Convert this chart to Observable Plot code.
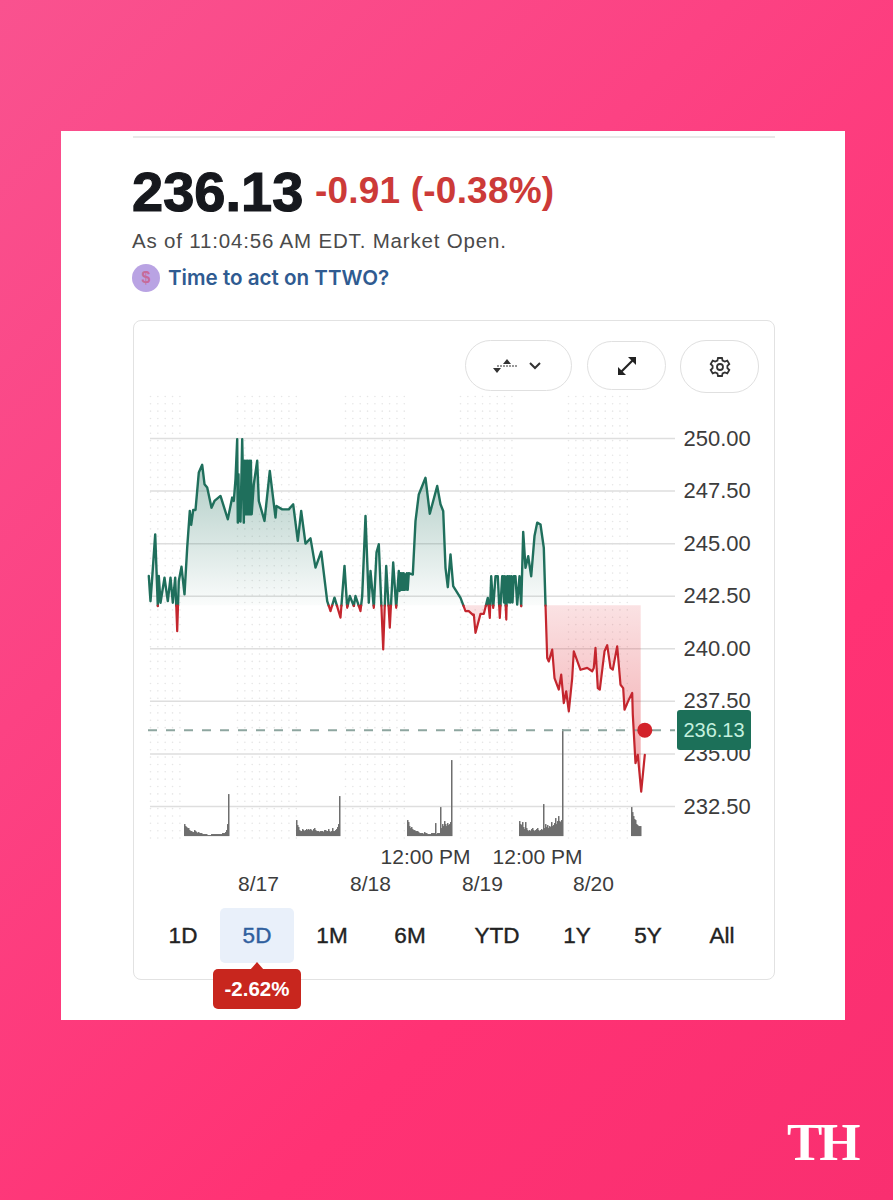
<!DOCTYPE html>
<html>
<head>
<meta charset="utf-8">
<script src="https://cdn.jsdelivr.net/npm/d3@7"></script>
<script src="https://cdn.jsdelivr.net/npm/@observablehq/plot@0.6"></script>
<style>
html,body{margin:0;padding:0}
#page{position:relative;width:893px;height:1200px;overflow:hidden;font-family:"Liberation Sans",Arial,sans-serif;background:linear-gradient(135deg,#f9528f 0%,#fc4283 35%,#ff3274 70%,#f92f70 100%)}
#page div{position:absolute;white-space:nowrap}
.pill{border:1.5px solid #e0e0e0;border-radius:26px;background:#fff;box-sizing:border-box;display:flex;align-items:center;justify-content:center}
.rng{top:922px;font-size:22.5px;color:#222;-webkit-text-stroke:.4px #222;transform:translateX(-50%);line-height:28px}
#chart{left:133px;top:395px}
</style>
</head>
<body>
<div id="page">
  <div style="left:61px;top:131px;width:784px;height:889px;background:#fff"></div>
  <div style="left:133px;top:136px;width:642px;height:2px;background:#e8e8e8"></div>
  <div style="left:132px;top:160px;font-size:56px;line-height:64px;font-weight:700;color:#16181d;-webkit-text-stroke:1.2px #16181d">236.13</div>
  <div style="left:315px;top:170px;font-size:37px;line-height:42px;font-weight:700;color:#cc3a38;letter-spacing:.2px">-0.91 (-0.38%)</div>
  <div style="left:132px;top:229px;font-size:20.5px;line-height:24px;color:#4a4a4a;letter-spacing:.82px">As of 11:04:56 AM EDT. Market Open.</div>
  <div style="left:132px;top:264px;width:28px;height:28px;border-radius:50%;background:#b9a3e3;color:#c76a9a;font-size:16px;line-height:28px;text-align:center;font-weight:700">$</div>
  <div style="left:168px;top:265px;font-family:Inter,sans-serif;font-size:20.6px;line-height:26px;font-weight:600;color:#2f5b91">Time to act on TTWO?</div>
  <div style="left:133px;top:320px;width:642px;height:660px;box-sizing:border-box;border:1.5px solid #e2e2e2;border-radius:8px;background:#fff"></div>

  <div class="pill" style="left:465px;top:340px;width:107px;height:51px">
    <svg width="60" height="20" viewBox="0 0 60 20"><path d="M8 10h20" stroke="#777" stroke-width="1.6" stroke-dasharray="2 1"/><path d="M18 3l4 5h-8zM8 17l-4-5h8z" fill="#333"/><path d="M41 7l5 5 5-5" fill="none" stroke="#333" stroke-width="2"/></svg>
  </div>
  <div class="pill" style="left:587px;top:341px;width:79px;height:49px">
    <svg width="24" height="24" viewBox="0 0 24 24"><path d="M4 20L20 4" stroke="#222" stroke-width="2.2"/><path d="M13 3h8v8zM3 13v8h8z" fill="#222"/></svg>
  </div>
  <div class="pill" style="left:680px;top:340px;width:79px;height:53px">
    <svg width="24" height="24" viewBox="0 0 24 24" fill="none" stroke="#333" stroke-width="1.8"><circle cx="12" cy="12" r="3"/><path d="M10 3h4l.6 2.6 2.2 1 2.5-1 2 3.4-1.9 1.8v2.4l1.9 1.8-2 3.4-2.5-1-2.2 1L14 21h-4l-.6-2.6-2.2-1-2.5 1-2-3.4 1.9-1.8v-2.4L2.7 9l2-3.4 2.5 1 2.2-1z"/></svg>
  </div>

  <div id="chart"></div>

  <div style="left:677px;top:710px;width:74px;height:40px;background:#1c7059;border-radius:3px;color:#c4f0df;font-size:20px;line-height:40px;text-align:center">236.13</div>

  <div style="left:220px;top:908px;width:74px;height:55px;background:#e9f0fa;border-radius:5px"></div>
  <div class="rng" style="left:183px">1D</div>
  <div class="rng" style="left:257px;color:#2f5f9e;-webkit-text-stroke:.4px #2f5f9e">5D</div>
  <div class="rng" style="left:332px">1M</div>
  <div class="rng" style="left:410px">6M</div>
  <div class="rng" style="left:497px">YTD</div>
  <div class="rng" style="left:577px">1Y</div>
  <div class="rng" style="left:648px">5Y</div>
  <div class="rng" style="left:722px">All</div>
  <div style="left:250px;top:962px;width:0;height:0;border-left:7px solid transparent;border-right:7px solid transparent;border-bottom:8px solid #c8261e"></div>
  <div style="left:213px;top:969px;width:88px;height:40px;background:#c8261e;border-radius:5px;color:#fff;font-size:20.5px;font-weight:700;line-height:40px;text-align:center">-2.62%</div>

  <div style="left:787px;top:1111px;font-family:'Liberation Serif',serif;font-weight:700;font-size:53px;line-height:62px;color:#fff;letter-spacing:-3px">TH</div>
</div>

<script>
// Time axis is measured in intraday bars from the start of the first pre-market session
const barsA = [2.3,4,5.7,8.7,11.3,12.3,14,18,21.3,24,26.3,28.7,30.7,32.3,35,38,40.7,43.3,44.7,46.7,49,52.3,55.7,58,60.7,65,68,74,81.3,85.7,87.3,89,90.7,91.3,92,92.6,94,95.7,97.3,98,98.8,99.6,100.4,101.2,102,102.8,103.6,104.4,105.2,107.3,110.7,112.3,118,123.3,129,130,135.7,142.3,146.7,151.3,154.7,159,164,169,174.7,180.7,184,188,194,198,200.7,203.3,207.3,209,214,215.7,219,222.3,224,227.3,230,232.3,236.7,239.7,243.3,246.7,249.7,252.3,253.1,253.9,254.7,255.5,256.3,257.1];
const pricesA = [243.46,242.27,243.38,245.44,242.03,243.46,242.19,243.38,242.27,243.38,242.19,243.38,240.84,243.22,243.90,242.59,244.81,246.56,245.89,246.60,246.60,248.38,248.75,247.83,247.67,246.71,247.03,247.27,246.16,247.19,247.03,248.06,249.97,246.0,248.3,246.1,246.05,249.97,246.0,248.94,246.4,248.94,246.4,248.94,246.4,248.94,246.4,248.94,246.4,247.83,248.94,247.03,246.08,248.46,246.24,246.79,246.63,246.63,246.87,245.13,246.56,245.0,245.25,243.86,244.62,242.27,241.79,242.43,241.48,243.94,241.95,242.51,242.03,242.51,241.79,242.51,246.32,242.19,243.70,241.95,244.57,244.97,239.97,243.94,241.0,244.10,241.95,243.70,242.75,243.6,242.8,243.6,242.8,243.6,242.8];
const barsB = [258,258.8,259.6,260.4,261.2,262.3,266.3,269,272.3,279,283.3,290.7,294,296.7,299,301.3,304,306.7,314,319,322.3,326.7,327.3,329,334,337.3,341.3,343.3,344.7,346.7,349,351.3,353.3,355.7,356.6,357.5,358.3,359,359.8,360.7,361.6,362.5,363.3,364,365,366,367.3,369,370.7,373,374.7,376.7,379,381.7,384.7,388,390.7,394,397.3,399,400.7,402.3,405.7,408,412.3,414.7,417.3,419.7,422.3,425.7,427.3,434,440.7,445.7,447.3,449,451.3,453.3,458,460.7,464,466.3,470.7,474,476.7,478,482.3,485.7,486.3,489,491.3,494.7,498.3];
const pricesB = [243.53,242.82,243.6,242.8,243.6,243.53,246.07,247.34,248.13,246.42,247.74,246.87,246.55,243.85,242.93,244.49,242.98,242.42,241.79,241.79,241.6,241.63,240.76,241.66,241.66,242.42,241.47,243.45,241.94,243.45,243.45,241.47,243.45,243.45,242.2,243.45,242.2,241.39,243.45,243.45,242.2,243.45,242.2,243.45,242.2,243.45,243.45,242.10,243.45,242.02,245.56,243.85,244.40,243.45,245.36,246.0,245.91,244.80,242.10,239.56,239.40,239.96,238.61,238.06,238.77,237.42,237.98,237.02,238.61,239.88,239.0,239.09,238.93,239.09,240.04,238.13,238.06,239.88,240.17,239.09,239.01,240.12,238.29,238.13,237.10,237.58,237.9,236.87,234.56,234.96,233.21,234.96,236.13];

const previousClose = 242.05;
const lastPrice = 236.13;
const lastBar = 498.3;
const areaEndBar = 495.7;
const yTicks = [232.5,235,237.5,240,242.5,245,247.5,250];

const sessionStarts = [38,150,261,373,485];
const volumes = [
  [12,10,9,8,8,6,5,5,4,4,6,5,4,3,4,3,3,3,2,2,2,2,2,1,1,1,1,2,2,2,2,2,2,2,2,2,2,2,3,3,3,4,6,12,42],
  [16,11,9,6,5,5,7,6,5,6,7,6,7,6,7,6,5,7,8,6,5,5,5,4,5,5,5,4,6,6,5,5,7,5,4,5,8,5,5,6,7,9,12,40],
  [16,14,10,8,9,7,6,6,5,5,5,4,3,3,3,3,2,4,3,3,2,2,2,2,3,3,3,3,13,2,3,3,3,29,8,12,10,15,12,10,13,11,12,14,76],
  [15,12,11,14,9,7,14,8,6,5,6,5,7,8,6,5,6,7,8,6,5,6,7,6,32,8,12,9,11,8,10,9,14,10,11,13,18,12,15,20,15,14,16,107],
  [29,24,20,17,16,12,11,10,10,10]
];

const extendedHours = [[4,35],[91,151],[199,259],[314,372],[422,484]];
const dateLabels = [[112,"8/17"],[224,"8/18"],[336,"8/19"],[447,"8/20"]];
const timeLabels = [[279,"12:00 PM"],[391,"12:00 PM"]];

// rows with the points where the line crosses the previous close, so it can change colour there
const raw = [...barsA, ...barsB].map((b,i)=>({bar:b, price:[...pricesA, ...pricesB][i]}));
const rows = [];
raw.forEach((p,i)=>{
  const q = raw[i-1];
  if (q && (q.price-previousClose)*(p.price-previousClose)<0) {
    const t = (previousClose-q.price)/(p.price-q.price);
    rows.push({bar:q.bar+t*(p.bar-q.bar), price:previousClose});
  }
  rows.push(p);
});
const areaRows = rows.filter(d=>d.bar<=areaEndBar);
const up = d => d.price>=previousClose ? d.price : NaN;
const down = d => d.price<=previousClose ? d.price : NaN;

// Volume shares the panel: it sits on a floor below the price range, scaled into price units
const volFloor = 231.07;
const volPerPrice = 21.03;
const volRows = volumes.flatMap((s,i)=>s.map((v,j)=>({bar:sessionStarts[i]+j, vol:v})));

const gridDots = extendedHours.flatMap(([a,b])=>d3.range(a,b+0.1,7.35).flatMap(x=>d3.range(231,252,0.35).map(y=>({x,y}))));
const labelOf = new Map([...dateLabels,...timeLabels]);

const defs = () => {
  const d = d3.create("svg:defs");
  const g = d.append("linearGradient").attr("id","gUp").attr("x1",0).attr("x2",0).attr("y1",0).attr("y2",1);
  g.append("stop").attr("offset","0%").attr("stop-color","#1f6f5c").attr("stop-opacity",0.42);
  g.append("stop").attr("offset","100%").attr("stop-color","#1f6f5c").attr("stop-opacity",0.02);
  const r = d.append("linearGradient").attr("id","gDown").attr("x1",0).attr("x2",0).attr("y1",0).attr("y2",1);
  r.append("stop").attr("offset","0%").attr("stop-color","#e0303a").attr("stop-opacity",0.14);
  r.append("stop").attr("offset","100%").attr("stop-color","#e0303a").attr("stop-opacity",0.45);
  return d.node();
};

const chart = Plot.plot({
  width:640, height:505,
  marginLeft:13, marginRight:98, marginTop:0, marginBottom:60,
  style:{background:"transparent", fontFamily:"'Liberation Sans', Arial, sans-serif", overflow:"visible"},
  x:{domain:[0,529], axis:null},
  y:{domain:[232.5,250], range:[411,43], axis:null},
  marks:[
    defs,
    Plot.dot(gridDots,{x:"x",y:"y",r:0.8,fill:"#e6e6e6"}),
    Plot.ruleY(yTicks,{x1:()=>4,x2:()=>529,stroke:"#dedede",strokeWidth:1.5}),
    Plot.areaY(areaRows,{x:"bar",y1:()=>previousClose,y2:up,fill:"url(#gUp)"}),
    Plot.areaY(areaRows,{x:"bar",y1:()=>previousClose,y2:down,fill:"url(#gDown)"}),
    Plot.rect(volRows,{x1:"bar",x2:d=>d.bar+1.5,y1:()=>volFloor,y2:d=>volFloor+d.vol/volPerPrice,fill:"#6e6e6e"}),
    Plot.ruleY([lastPrice],{x1:()=>2,x2:()=>529,stroke:"#8ea6a0",strokeWidth:2,strokeDasharray:"9,9"}),
    Plot.line(rows,{x:"bar",y:up,stroke:"#1f6f5c",strokeWidth:2.4}),
    Plot.line(rows,{x:"bar",y:down,stroke:"#c4262e",strokeWidth:2.2}),
    Plot.dot([lastPrice],{x:()=>lastBar,y:d=>d,r:7.5,fill:"#d3222a"}),
    Plot.axisY(yTicks,{anchor:"right",tickSize:0,tickPadding:8,fontSize:22,fill:"#3c3c3c",label:null,tickFormat:d=>d.toFixed(2)}),
    Plot.axisX(timeLabels.map(d=>d[0]),{anchor:"bottom",tickSize:0,tickPadding:9,fontSize:21,fill:"#3c3c3c",label:null,tickFormat:d=>labelOf.get(d)}),
    Plot.axisX(dateLabels.map(d=>d[0]),{anchor:"bottom",tickSize:0,tickPadding:36,fontSize:21,fill:"#3c3c3c",label:null,tickFormat:d=>labelOf.get(d)})
  ]
});
document.getElementById("chart").append(chart);
</script>
</body>
</html>
